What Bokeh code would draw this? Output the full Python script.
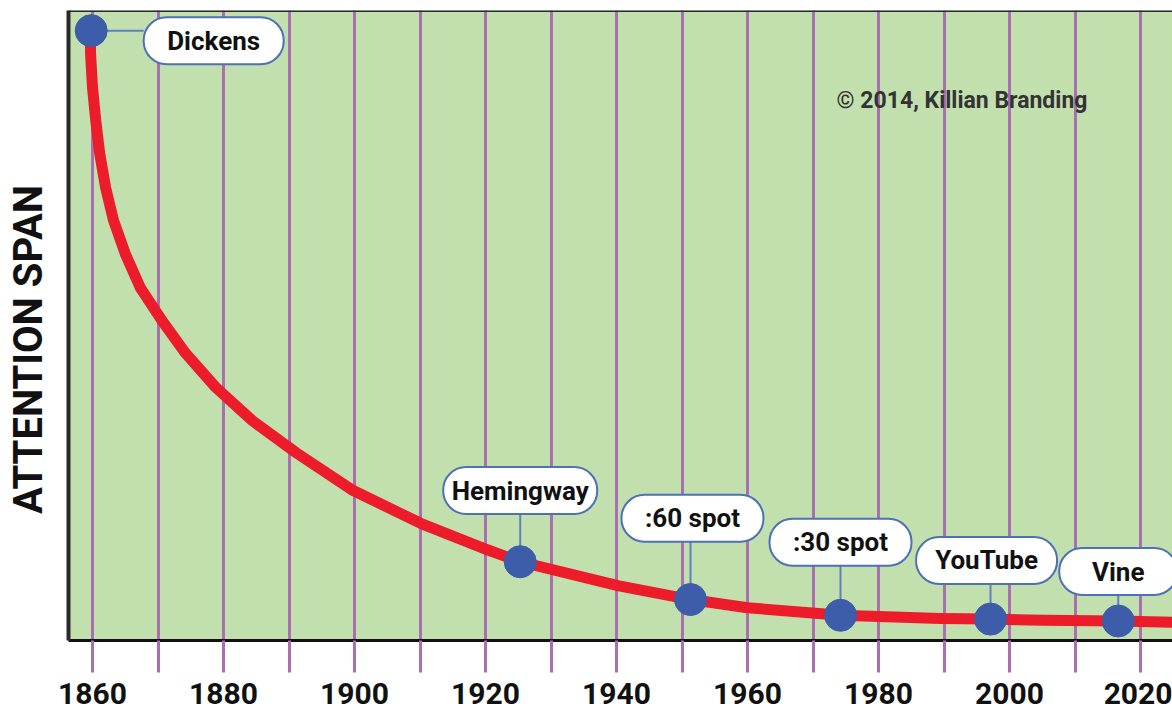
import numpy as np
from bokeh.plotting import figure
from bokeh.layouts import row
from bokeh.models import FixedTicker, Label, Span, ColumnDataSource
from bokeh.core.properties import value
from bokeh.embed import file_html
from bokeh.resources import INLINE

# ---------------- data ----------------
curve_years = [1859.7, 1859.7, 1860.0, 1860.5, 1861.1, 1862.0, 1863.2, 1865.0, 1867.3,
               1870.6, 1874.2, 1878.8, 1884.4, 1891.1, 1899.8, 1910.1, 1920.3, 1925.3,
               1940.2, 1951.3, 1960.0, 1974.2, 1989.5, 1997.1, 2005.2, 2016.6, 2024.9]
curve_span = [96.8, 93.2, 87.8, 82.5, 77.3, 71.9, 66.7, 61.4, 56.0,
              50.8, 45.6, 40.2, 34.9, 29.8, 23.8, 18.6, 14.4, 12.5,
              8.7, 6.5, 5.2, 4.0, 3.5, 3.4, 3.2, 3.1, 2.9]

milestones = ["Dickens", "Hemingway", ":60 spot", ":30 spot", "YouTube", "Vine"]
milestone_years = [1859.8, 1925.3, 1951.3, 1974.2, 1997.1, 2016.6]
milestone_span = [96.8, 12.5, 6.5, 4.0, 3.4, 3.1]

# label box anchor (centre) positions
label_years = [1878.5, 1925.3, 1951.6, 1974.2, 1996.5, 2016.6]
label_span = [95.2, 23.8, 19.4, 15.6, 12.7, 10.95]

tick_years = list(range(1860, 2021, 10))
tick_labels = ["1860", "", "1880", "", "1900", "", "1920", "", "1940", "", "1960", "",
               "1980", "", "2000", "", "2020"]

y_title = "ATTENTION SPAN"
y_title_pos = 46.2      # vertical centre of the axis title, in chart units
credit = "\u00a9 2014, Killian Branding"

# ---------------- layout / style ----------------
W, H = 1172, 714
LW = 56                 # width of the side strip holding the axis title
BL, BT, BB = 12, 10, 74
PW = W - LW
PX_YR = 6.55
x_start = 1860 - 24 / PX_YR
x_end = x_start + (PW - BL) / PX_YR
PX_UNIT = (H - BT - BB) / 100.0

GREEN = "#c2dfae"
PURPLE = "#a96fb0"
RED = "#ec1c2a"
BLUE = "#3d5ca9"
BOX_BLUE = "#4d70b6"
DARK = "#2a2a2a"
FONT = "Roboto"

box_w_px = [140, 154, 142, 142, 141, 118]
box_h_px = 47

p = figure(width=PW, height=H, x_range=(x_start, x_end), y_range=(0, 100),
           output_backend="svg", toolbar_location=None,
           min_border_left=BL, min_border_right=0, min_border_top=BT, min_border_bottom=BB,
           background_fill_color=GREEN, border_fill_color="white", outline_line_color=None)

# x axis
p.xaxis.ticker = FixedTicker(ticks=tick_years)
p.xaxis.major_label_overrides = {t: l for t, l in zip(tick_years, tick_labels)}
p.xaxis.major_label_text_font = FONT
p.xaxis.major_label_text_font_style = "bold"
p.xaxis.major_label_text_font_size = "30px"
p.xaxis.major_label_text_color = "#111111"
p.xaxis.major_label_standoff = 10
p.xaxis.major_tick_in = 0
p.xaxis.major_tick_out = 32
p.xaxis.major_tick_line_color = PURPLE
p.xaxis.major_tick_line_width = 3
p.xaxis.minor_tick_line_color = None
p.xaxis.axis_line_color = "#111111"
p.xaxis.axis_line_width = 3

# y axis (frame edge only)
p.yaxis.ticker = FixedTicker(ticks=[])
p.yaxis.major_label_text_font_size = "0px"
p.yaxis.major_tick_out = 0
p.yaxis.major_tick_in = 0
p.yaxis.minor_tick_line_color = None
p.yaxis.axis_line_color = DARK
p.yaxis.axis_line_width = 4

p.xgrid.grid_line_color = PURPLE
p.xgrid.grid_line_width = 3
p.ygrid.grid_line_color = None

p.add_layout(Span(location=100, dimension="width", line_color=DARK, line_width=3))

# curve
p.line(curve_years, curve_span, line_color=RED, line_width=11,
       line_join="round", line_cap="round")

# connectors + boxes
half_w = [w / 2 / PX_YR for w in box_w_px]
half_h = box_h_px / 2 / PX_UNIT
box_src = ColumnDataSource(dict(
    left=[x - hw for x, hw in zip(label_years, half_w)],
    right=[x + hw for x, hw in zip(label_years, half_w)],
    bottom=[y - half_h for y in label_span],
    top=[y + half_h for y in label_span],
    x=label_years, y=label_span, text=milestones))

cx0, cy0, cx1, cy1 = [], [], [], []
for i in range(len(milestones)):
    if i == 0:  # horizontal connector to the right
        cx0.append(milestone_years[i]); cy0.append(milestone_span[i])
        cx1.append(box_src.data["left"][i]); cy1.append(milestone_span[i])
    else:
        cx0.append(milestone_years[i]); cy0.append(milestone_span[i])
        cx1.append(milestone_years[i]); cy1.append(box_src.data["bottom"][i])
p.segment(cx0, cy0, cx1, cy1, line_color="#5f82bf", line_width=2)

p.quad(left="left", right="right", bottom="bottom", top="top", source=box_src,
       fill_color="white", line_color=BOX_BLUE, line_width=2, border_radius=23)
p.text(x="x", y="y", text="text", source=box_src, text_align="center",
       text_baseline="middle", text_font=value(FONT), text_font_style="bold",
       text_font_size="26px", text_color="#111111")

p.scatter(milestone_years, milestone_span, size=32, fill_color=BLUE, line_color=BLUE)

# copyright
p.add_layout(Label(x=1973.6, y=85.7, text=credit, text_font=FONT, text_font_style="bold",
                   text_font_size="23px", text_color="#333333", text_baseline="middle",
                   text_align="left"))

# side strip with the vertical axis title (same vertical frame as the chart)
s = figure(width=LW, height=H, x_range=(0, LW), y_range=(0, 100),
           output_backend="svg", toolbar_location=None,
           min_border_left=0, min_border_right=0, min_border_top=BT, min_border_bottom=BB,
           background_fill_color="white", border_fill_color="white", outline_line_color=None)
s.axis.visible = False
s.grid.visible = False
s.text(x=[28], y=[y_title_pos], text=[y_title], angle=np.pi / 2, text_align="center",
       text_baseline="middle", text_font=value(FONT), text_font_style="bold",
       text_font_size="40px", text_color="#111111")

layout = row(s, p, spacing=0)
open("out.html", "w").write(file_html(layout, INLINE))
